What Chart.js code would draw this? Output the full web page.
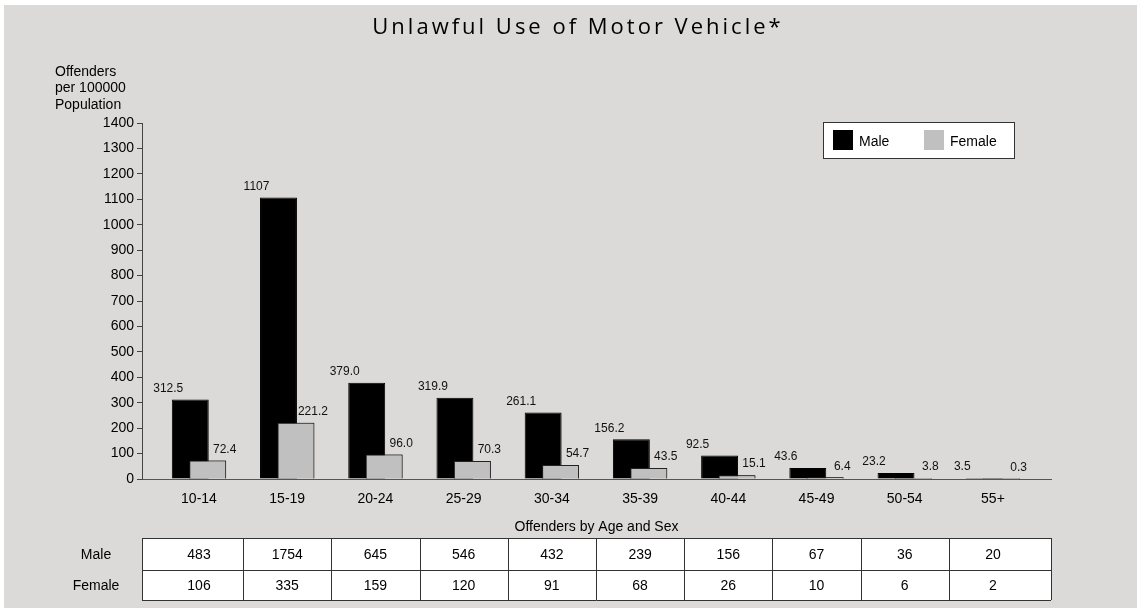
<!DOCTYPE html>
<html>
<head>
<meta charset="utf-8">
<script src="https://cdn.jsdelivr.net/npm/chart.js@4.4.1/dist/chart.umd.min.js"></script>
<style>
    html, body { margin: 0; padding: 0; background: #dbdad8; }
    #wrap { position: relative; width: 1137px; height: 608px; }
    #chart { position: absolute; left: 0; top: 0; }
    .edge-top { position: absolute; left: 0; top: 0; width: 1137px; height: 5px; background: #fff; }
    .edge-left { position: absolute; left: 0; top: 0; width: 4px; height: 608px; background: #fff; }
</style>
</head>
<body>
<div id="wrap">
    <canvas id="chart" width="1137" height="608"></canvas>
    <div class="edge-top"></div>
    <div class="edge-left"></div>
</div>
<script>
const ageGroups = ['10-14', '15-19', '20-24', '25-29', '30-34', '35-39', '40-44', '45-49', '50-54', '55+'];
const maleRates = [312.5, 1107, 379.0, 319.9, 261.1, 156.2, 92.5, 43.6, 23.2, 3.5];
const femaleRates = [72.4, 221.2, 96.0, 70.3, 54.7, 43.5, 15.1, 6.4, 3.8, 0.3];
const maleCounts = [483, 1754, 645, 546, 432, 239, 156, 67, 36, 20];
const femaleCounts = [106, 335, 159, 120, 91, 68, 26, 10, 6, 2];
const yTicks = [0, 100, 200, 300, 400, 500, 600, 700, 800, 900, 1000, 1100, 1200, 1300, 1400];

const FONT = '"Liberation Sans", Arial, sans-serif';

function fmtRate(v) {
    return v >= 1000 ? String(v) : v.toFixed(1);
}

// title, axis caption, value labels, legend box and the counts table
const extras = {
    id: 'extras',
    afterDatasetsDraw(chart) {
        const ctx = chart.ctx;
        // chart.js paints the first dataset on top; the female bars belong in front
        const area = chart.chartArea;
        ctx.save();
        ctx.beginPath();
        ctx.rect(area.left, area.top, area.right - area.left, area.bottom - area.top);
        ctx.clip();
        chart.getDatasetMeta(1).data.forEach(bar => bar.draw(ctx));
        ctx.restore();

        ctx.save();
        ctx.fillStyle = '#111';
        ctx.font = '12px ' + FONT;
        ctx.textAlign = 'center';
        ctx.textBaseline = 'middle';
        const shift = [-22, 17];
        chart.data.datasets.forEach((ds, d) => {
            chart.getDatasetMeta(d).data.forEach((bar, i) => {
                ctx.fillText(fmtRate(ds.data[i]), bar.x + shift[d], bar.y - 11);
            });
        });
        ctx.restore();
    },
    afterDraw(chart) {
        const ctx = chart.ctx;
        const area = chart.chartArea;
        const xs = chart.scales.x;
        ctx.save();

        // title
        ctx.fillStyle = '#000';
        ctx.font = '22px "Open Sans", "Noto Sans", sans-serif';
        ctx.letterSpacing = '3px';
        ctx.textAlign = 'center';
        ctx.textBaseline = 'middle';
        ctx.fillText('Unlawful Use of Motor Vehicle*', 578, 28);
        ctx.letterSpacing = '0px';

        // y axis caption
        ctx.font = '14px ' + FONT;
        ctx.textAlign = 'left';
        ['Offenders', 'per 100000', 'Population'].forEach((t, i) => {
            ctx.fillText(t, 55, 72 + i * 16.5);
        });

        // legend
        ctx.fillStyle = '#fff';
        ctx.fillRect(823, 122, 191, 36);
        ctx.strokeStyle = '#333';
        ctx.lineWidth = 1;
        ctx.strokeRect(823.5, 122.5, 191, 36);
        const legendX = [833, 924];
        chart.data.datasets.forEach((ds, d) => {
            ctx.fillStyle = ds.backgroundColor;
            ctx.fillRect(legendX[d], 130, 20, 20);
            ctx.fillStyle = '#000';
            ctx.fillText(ds.label, legendX[d] + 26, 142);
        });

        // caption above table
        ctx.textAlign = 'center';
        ctx.fillText('Offenders by Age and Sex', (area.left + area.right) / 2, 527);

        // counts table
        const rows = [['Male', maleCounts], ['Female', femaleCounts]];
        const rowEdges = [538, 570, 600];
        const colEdges = ageGroups.map((g, i) => i === 0 ? area.left : Math.round(xs.getPixelForValue(i - 0.5)));
        colEdges.push(area.right);
        ctx.fillStyle = '#fff';
        ctx.fillRect(area.left, rowEdges[0], area.right - area.left, rowEdges[2] - rowEdges[0]);
        ctx.strokeStyle = '#333';
        ctx.beginPath();
        rowEdges.forEach(y => {
            ctx.moveTo(area.left, y + 0.5);
            ctx.lineTo(area.right, y + 0.5);
        });
        colEdges.forEach(x => {
            ctx.moveTo(x + 0.5, rowEdges[0]);
            ctx.lineTo(x + 0.5, rowEdges[2]);
        });
        ctx.stroke();
        ctx.fillStyle = '#000';
        rows.forEach(([name, vals], r) => {
            const cy = (rowEdges[r] + rowEdges[r + 1]) / 2 + 1;
            ctx.fillText(name, 96, cy);
            vals.forEach((v, i) => {
                ctx.fillText(String(v), xs.getPixelForValue(i), cy);
            });
        });
        ctx.restore();
    }
};

const ctx = document.getElementById('chart').getContext('2d');
new Chart(ctx, {
    type: 'bar',
    data: {
        labels: ageGroups.map((g, i) => i),
        datasets: [{
            label: 'Male',
            data: maleRates,
            backgroundColor: '#000000',
            borderColor: '#000000',
            borderWidth: 1
        }, {
            label: 'Female',
            data: femaleRates,
            backgroundColor: '#c0c0c0',
            borderColor: '#222222',
            borderWidth: 1
        }]
    },
    options: {
        responsive: false,
        animation: false,
        categoryPercentage: 0.395,
        barPercentage: 2.12,
        layout: {
            padding: { top: 123, right: 86, bottom: 0, left: 0 }
        },
        scales: {
            x: {
                type: 'linear',
                offset: false,
                min: -0.646,
                max: 9.658,
                afterBuildTicks: scale => {
                    scale.ticks = ageGroups.map((g, i) => ({ value: i }));
                },
                afterFit: scale => { scale.height = 129; },
                grid: { drawOnChartArea: false, drawTicks: false },
                border: { color: '#555', width: 1 },
                ticks: {
                    autoSkip: false,
                    maxRotation: 0,
                    padding: 12,
                    color: '#000',
                    font: { family: FONT, size: 14 },
                    callback: v => ageGroups[v]
                }
            },
            y: {
                min: 0,
                max: 1400,
                afterBuildTicks: scale => {
                    scale.ticks = yTicks.map(v => ({ value: v }));
                },
                afterFit: scale => { scale.width = 142; },
                grid: { drawOnChartArea: false, drawTicks: true, tickLength: 5, color: '#444' },
                border: { color: '#444', width: 1 },
                ticks: {
                    padding: 3,
                    color: '#000',
                    font: { family: FONT, size: 14 },
                    callback: v => String(v)
                }
            }
        },
        plugins: {
            legend: { display: false },
            tooltip: { enabled: false }
        }
    },
    plugins: [extras]
});
</script>
</body>
</html>
